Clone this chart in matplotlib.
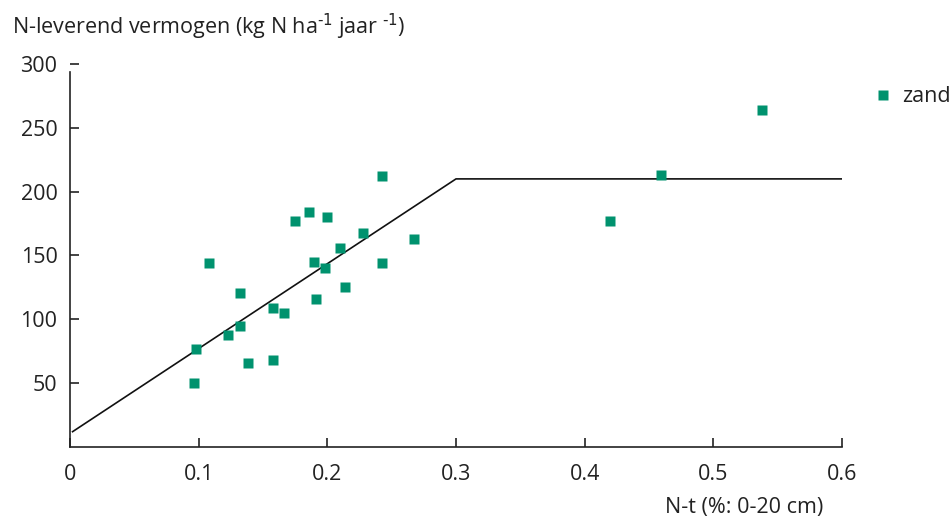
import numpy as np
import matplotlib.pyplot as plt

plt.rcParams['font.family'] = ['Open Sans', 'DejaVu Sans']

# measured points (zand)
nt = [0.108, 0.132, 0.098, 0.096, 0.123, 0.132, 0.138, 0.158, 0.158, 0.166,
      0.175, 0.186, 0.200, 0.190, 0.198, 0.191, 0.210, 0.214, 0.228, 0.2425,
      0.2425, 0.267, 0.420, 0.459, 0.538]
nlev = [144, 121, 77, 50, 88, 95, 66, 68, 109, 105,
        177, 184, 180, 145, 140, 116, 156, 125, 168, 212,
        144, 163, 177, 213, 264]

# broken-line fit
fit_x = [0.002, 0.30, 0.60]
fit_y = [12, 210, 210]

xticks = [0, 0.1, 0.2, 0.3, 0.4, 0.5, 0.6]
xticklabels = ['0', '0.1', '0.2', '0.3', '0.4', '0.5', '0.6']
yticks = [50, 100, 150, 200, 250, 300]

green = '#00926e'
fs = 15.5

fig = plt.figure(figsize=(9.52, 5.19), dpi=100)
ax = fig.add_axes([70/952, 1-447/519, (842-70)/952, (447-64)/519])

ax.plot(fit_x, fit_y, color='#111111', lw=1.2, zorder=2)
ax.plot(nt, nlev, 's', color=green, ms=7.3, mec='none', zorder=3, label='zand')

ax.set_xlim(0, 0.6)
ax.set_ylim(0, 300)
ax.set_xticks(xticks)
ax.set_xticklabels(xticklabels)
ax.set_yticks(yticks)

for s in ['top', 'right']:
    ax.spines[s].set_visible(False)
for s in ['left', 'bottom']:
    ax.spines[s].set_linewidth(1.2)
    ax.spines[s].set_color('#222222')
ax.spines['left'].set_bounds(0, 294)

ax.tick_params(axis='both', direction='in', length=6.5, width=1.2,
               color='#222222', labelsize=fs, labelcolor='#222222')
ax.tick_params(axis='x', pad=12)
ax.tick_params(axis='y', pad=9)

fig.text(12/952, 1-27/519,
         r'N-leverend vermogen (kg N ha$^{\text{-1}}$ jaar $^{\text{-1}}$)',
         fontsize=fs, color='#222222', va='center', ha='left')
fig.text(823/952, 1-508/519, 'N-t (%: 0-20 cm)', fontsize=fs,
         color='#222222', va='center', ha='right')

leg = ax.legend(loc='center left', bbox_to_anchor=(872/952, 1-97/519),
                bbox_transform=fig.transFigure, frameon=False, fontsize=fs,
                handlelength=1.0, handletextpad=0.4, markerscale=0.9,
                borderaxespad=0, borderpad=0)
for t in leg.get_texts():
    t.set_color('#222222')

fig.savefig('out.png', dpi=100)
